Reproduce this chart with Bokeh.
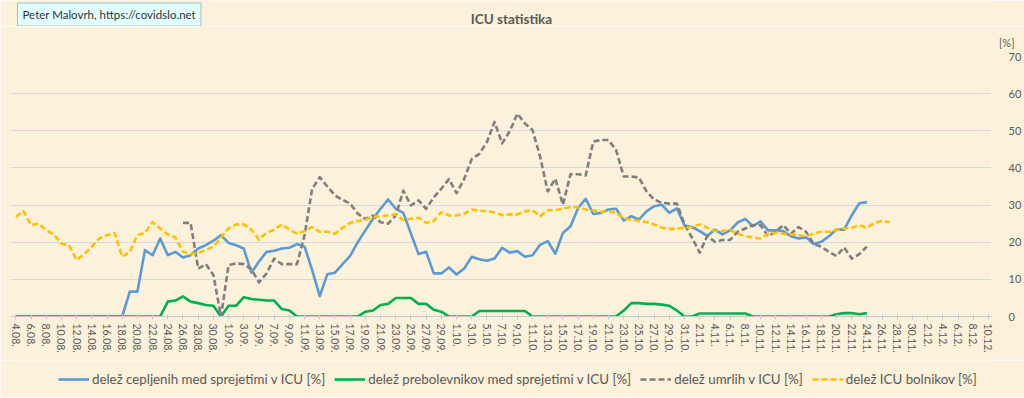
import datetime as dt
import numpy as np
from bokeh.plotting import figure
from bokeh.layouts import column
from bokeh.models import (ColumnDataSource, Legend, LegendItem, Label, Title,
                          FixedTicker, Range1d)
from bokeh.embed import file_html
from bokeh.resources import INLINE

# ---------------- data ----------------
start_date = dt.date(2021, 8, 4)
n_days = 129  # 4.08. .. 10.12.

# delež cepljenih med sprejetimi v ICU [%]  (4.08. .. 24.11.)
vaccinated = [0, 0, 0, 0, 0, 0, 0, 0, 0, 0,
              0, 0, 0, 0, 0, 6.7, 6.7, 17.9, 16.5, 21,
              16.5, 17.4, 15.9, 16.5, 18.3, 19.2, 20.4, 21.9, 19.8, 19.2,
              18.3, 11.8, 14.8, 17.4, 17.7, 18.3, 18.5, 19.5, 18.8, 12.5,
              5.5, 11.4, 11.8, 14.1, 16.3, 20, 23.2, 26.3, 29, 31.5,
              29, 27.9, 22.3, 16.8, 17.4, 11.6, 11.6, 13.2, 11.3, 12.9,
              16.1, 15.4, 15, 15.6, 18.5, 17.2, 17.6, 16.1, 16.5, 19.3,
              20.3, 16.9, 22.5, 24.3, 29.2, 31.7, 27.6, 27.9, 28.8, 29,
              25.8, 27, 26.1, 28.3, 29.7, 30.1, 27.9, 29.1, 24.5, 24.1,
              23, 21.7, 23.4, 22.1, 23.2, 25.3, 26.3, 24.3, 25.6, 23.2,
              23.2, 23, 21.6, 21, 21.3, 19.5, 20.1, 21.6, 23.4, 23.4,
              27.2, 30.5, 30.8]

# delež prebolevnikov med sprejetimi v ICU [%]
recovered = [0, 0, 0, 0, 0, 0, 0, 0, 0, 0,
             0, 0, 0, 0, 0, 0, 0, 0, 0, 0,
             4, 4.3, 5.4, 4, 3.6, 3.1, 2.9, 0, 2.9, 2.9,
             5.2, 4.7, 4.5, 4.3, 4.3, 2, 1.6, 0, 0, 0,
             0, 0, 0, 0, 0, 0, 1.3, 1.6, 3.1, 3.4,
             5, 5, 5, 3.4, 3.4, 1.8, 1.3, 0, 0, 0,
             0, 1.5, 1.5, 1.5, 1.5, 1.5, 1.5, 1.5, 0, 0,
             0, 0, 0, 0, 0, 0, 0, 0, 0, 0,
             1.6, 3.6, 3.6, 3.4, 3.4, 3.2, 2.9, 1.6, 0, 0,
             0.8, 0.8, 0.8, 0.8, 0.8, 0.8, 0.8, 0, 0, 0,
             0, 0, 0, 0, 0, 0, 0, 0, 0.6, 0.9,
             0.9, 0.6, 0.9]

# delež umrlih v ICU [%]  (from 26.08.)
deaths = [None] * 22 + [
    25.2, 25.2, 12.9, 14.1, 11.2, 0, 13.8, 14.3,
    14.1, 12.7, 9.2, 11.6, 15.6, 14.1, 14.1, 14.1, 21.9, 34.4,
    37.5, 35, 32.6, 31.4, 30.4, 27.7, 26.3, 27.2, 25.4, 25,
    27.2, 33.9, 29.9, 31.3, 29, 32.1, 34.4, 37, 33.2, 37,
    42.4, 43.8, 47, 52.4, 46.6, 49.9, 54.6, 52, 50.2, 43,
    33.7, 37.1, 30.1, 38.3, 38.3, 38, 47.1, 47.5, 47.5, 44.8,
    37.7, 37.7, 37.4, 33.7, 31.5, 30.6, 30.4, 30.4, 24.8, 21.2,
    17.2, 21.7, 20.1, 20.6, 20.6, 22.8, 23.7, 24.6, 24.6, 21.6,
    22.8, 24.6, 22.3, 24.1, 22.8, 19.5, 18.8, 17.4, 16.3, 18.6,
    15.6, 16.8, 18.8]

# delež ICU bolnikov [%]  (4.08. .. 27.11.)
icu_share = [26.8, 28.4, 24.6, 25, 23.2, 22.1, 19.6, 19.2, 15.2, 16.8,
             18.8, 21, 21.9, 22.5, 16.1, 17.4, 21.9, 22.5, 25.4, 23.7,
             22.1, 21.3, 17.4, 16.8, 17.1, 17.9, 18.8, 21.3, 23.7, 24.8,
             24.8, 23.4, 20.7, 22.5, 23.4, 24.8, 23.4, 22.3, 23, 24.1,
             22.8, 22.8, 22.3, 23.9, 25.2, 25.7, 26.1, 26.8, 27, 27.2,
             27.5, 25.9, 26.3, 26.6, 25.2, 25.7, 28.1, 27.2, 27.2, 27.7,
             28.8, 28.4, 28.4, 28, 27.3, 27.5, 27.5, 28.3, 28.6, 27,
             28.6, 28.6, 29.1, 29.4, 29.4, 28.8, 28.6, 28.2, 28.3, 27.9,
             26.4, 26.1, 25.7, 25.4, 24.8, 23.9, 23.6, 23.6, 23.9, 24.1,
             24.8, 23.9, 23, 23, 23.3, 22.3, 21.6, 21.3, 21, 22.3,
             22.5, 22.3, 22.1, 21.9, 21.6, 22.3, 22.8, 22.8, 23.2, 23.7,
             23.9, 24.6, 23.9, 25.2, 25.7, 25.4]

series_names = ["delež cepljenih med sprejetimi v ICU [%]",
                "delež prebolevnikov med sprejetimi v ICU [%]",
                "delež umrlih v ICU [%]",
                "delež ICU bolnikov [%]"]
series_colors = ["#5B9BD5", "#00B050", "#7F7F7F", "#FFC000"]
series_dash = ["solid", "solid", "6 3", "6 3"]

y_ticks = [0, 10, 20, 30, 40, 50, 60, 70]
x_ticks = list(range(0, n_days, 2))
x_tick_labels = {}
for d in x_ticks:
    day = start_date + dt.timedelta(days=d)
    x_tick_labels[d] = f"{day.day}.{day.month:02d}."

# ---------------- style ----------------
BG = "#FCF1DA"
TXT = "#595959"
FONT = "Lato"
W = 1024
HEAD_H = 26
FRAME_L = 10   # the column aligns every child's frame to the main chart's


def to_arr(v):
    return np.array([np.nan if a is None else a for a in v], dtype=float)


def bare_fig(h, xr, yr):
    f = figure(width=W, height=h, output_backend="svg", toolbar_location=None,
               x_range=xr, y_range=yr, x_axis_type=None, y_axis_type=None,
               min_border=0, background_fill_color=BG, border_fill_color=BG,
               outline_line_color=None)
    f.grid.grid_line_color = None
    return f


# ---------- header (screen units, relative to the frame) ----------
head = bare_fig(HEAD_H, Range1d(0, 1), Range1d(0, 1))
head.add_layout(Label(x=17 - FRAME_L, y=HEAD_H - 14, x_units="screen",
                      y_units="screen",
                      text="Peter Malovrh, https://covidslo.net",
                      text_align="left", text_baseline="middle", text_font=FONT,
                      text_font_size="11.5px", text_color="#333333",
                      background_fill_color="#E1FFFF", border_line_color="#A9B9B9",
                      padding=5))
head.add_layout(Label(x=511 - FRAME_L, y=HEAD_H - 18, x_units="screen",
                      y_units="screen", text="ICU statistika", text_align="center",
                      text_baseline="middle", text_font=FONT,
                      text_font_style="bold", text_font_size="13.5px",
                      text_color=TXT))

# ---------- main chart ----------
p = figure(width=W, height=334, output_backend="svg", toolbar_location=None,
           x_range=Range1d(-0.7, 128.4), y_range=Range1d(0, 70),
           y_axis_location="right",
           min_border_left=FRAME_L, min_border_right=31, min_border_top=28,
           min_border_bottom=44,
           background_fill_color=BG, border_fill_color=BG,
           outline_line_color=None)

# unit label above the right axis
p.add_layout(Title(text="[%]", align="right", offset=-23, standoff=15,
                   text_font=FONT, text_font_size="11px",
                   text_font_style="normal", text_color=TXT), "above")

p.xgrid.grid_line_color = None
p.ygrid.grid_line_color = "#D5DAE0"
p.ygrid.grid_line_width = 1
p.ygrid.ticker = FixedTicker(ticks=y_ticks)

xa = p.xaxis[0]
xa.ticker = FixedTicker(ticks=x_ticks)
xa.major_label_overrides = x_tick_labels
xa.major_label_orientation = "vertical"
xa.major_label_text_font = FONT
xa.major_label_text_font_size = "10.5px"
xa.major_label_text_color = TXT
xa.axis_line_color = "#C3C9D1"
xa.major_tick_line_color = "#C3C9D1"
xa.major_tick_in = 2
xa.major_tick_out = 3
xa.minor_tick_line_color = None
xa.major_label_standoff = 4

ya = p.yaxis[0]
ya.ticker = FixedTicker(ticks=y_ticks)
ya.axis_line_color = None
ya.major_tick_line_color = None
ya.minor_tick_line_color = None
ya.major_label_text_font = FONT
ya.major_label_text_font_size = "11px"
ya.major_label_text_color = TXT
ya.major_label_standoff = 11

src_a = ColumnDataSource(dict(x=list(range(len(vaccinated))),
                              vac=to_arr(vaccinated), rec=to_arr(recovered),
                              dea=to_arr(deaths)))
src_b = ColumnDataSource(dict(x=list(range(len(icu_share))), icu=to_arr(icu_share)))

for col, src, c, dsh in [("vac", src_a, series_colors[0], series_dash[0]),
                         ("rec", src_a, series_colors[1], series_dash[1]),
                         ("dea", src_a, series_colors[2], series_dash[2]),
                         ("icu", src_b, series_colors[3], series_dash[3])]:
    p.line("x", col, source=src, line_color=c, line_width=2.6,
           line_dash=dsh, line_join="round")

# ---------- legend strip ----------
leg = bare_fig(37, Range1d(0, 1), Range1d(0, 1))
items = []
for name, c, dsh in zip(series_names, series_colors, series_dash):
    # off-screen proxy line (only its legend swatch is visible)
    r = leg.line(x=[-3, -2], y=[-3, -3], line_color=c, line_width=2.6,
                 line_dash=dsh)
    items.append(LegendItem(label=name, renderers=[r]))
legend = Legend(items=items, orientation="horizontal", location=(48, 10),
                label_text_font=FONT, label_text_font_size="13.3px",
                label_text_color=TXT, glyph_width=31, glyph_height=14,
                label_standoff=3, spacing=9, padding=0, margin=0,
                background_fill_alpha=0, border_line_color=None)
leg.add_layout(legend, "center")

layout = column(head, p, leg, spacing=0)
open("out.html", "w").write(file_html(layout, INLINE))
